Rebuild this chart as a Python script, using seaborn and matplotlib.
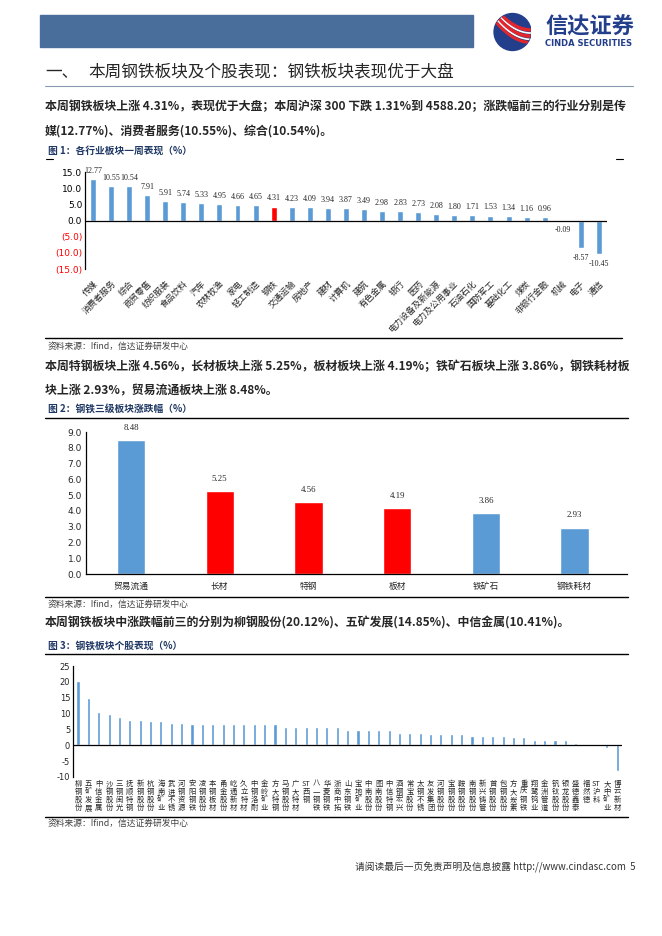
import matplotlib
matplotlib.use('Agg')
import matplotlib.pyplot as plt
import matplotlib.patches as mpatches
import numpy as np
import pandas as pd
import seaborn as sns

# 图1: 各行业板块一周表现
industries = ['传媒', '消费者服务', '综合', '商贸零售', '纺织服装', '食品饮料', '汽车',
              '农林牧渔', '家电', '轻工制造', '钢铁', '交通运输', '房地产', '建材', '计算机',
              '建筑', '有色金属', '银行', '医药', '电力设备及新能源', '电力及公用事业',
              '石油石化', '国防军工', '基础化工', '煤炭', '非银行金融', '机械', '电子', '通信']
industry_chg = [12.77, 10.55, 10.54, 7.91, 5.91, 5.74, 5.33, 4.95, 4.66, 4.65, 4.31, 4.23,
                4.09, 3.94, 3.87, 3.49, 2.98, 2.83, 2.73, 2.08, 1.80, 1.71, 1.53, 1.34,
                1.16, 0.96, -0.09, -8.57, -10.45]

# 图2: 钢铁三级板块涨跌幅
sub_sectors = ['贸易流通', '长材', '特钢', '板材', '铁矿石', '钢铁耗材']
sub_chg = [8.48, 5.25, 4.56, 4.19, 3.86, 2.93]
red_sectors = ['长材', '特钢', '板材']

# 图3: 钢铁板块个股表现
stocks = ['柳钢股份', '五矿发展', '中信金属', '沙钢股份', '三钢闽光', '抚顺特钢', '新钢股份',
          '杭钢股份', '海南矿业', '武进不锈', '河钢资源', '安阳钢铁', '凌钢股份', '本钢板材',
          '甬金股份', '屹通新材', '久立特材', '中钢洛耐', '金岭矿业', '方大特钢', '马钢股份',
          '广大特材', 'ST西钢', '八一钢铁', '华菱钢铁', '浙商中拓', '山东钢铁', '宝地矿业',
          '中南股份', '图南股份', '中信特钢', '酒钢宏兴', '常宝股份', '太钢不锈', '友发集团',
          '河钢股份', '宝钢股份', '鞍钢股份', '南钢股份', '新兴铸管', '首钢股份', '包钢股份',
          '方大炭素', '重庆钢铁', '翔鹭钨业', '金洲管道', '钒钛股份', '银龙股份', '盛德鑫泰',
          '福然德', 'ST沪科', '大中矿业', '博云新材']
stock_chg = [20.12, 14.85, 10.41, 9.9, 9.0, 7.9, 7.9, 7.8, 7.8, 6.9, 6.9, 6.8, 6.8, 6.8,
             6.8, 6.7, 6.7, 6.7, 6.7, 6.6, 5.8, 5.8, 5.8, 5.7, 5.7, 5.7, 4.8, 4.8, 4.7, 4.7,
             4.7, 3.8, 3.8, 3.8, 3.7, 3.7, 3.7, 3.7, 2.8, 2.8, 2.8, 2.8, 2.7, 2.7, 1.8, 1.8,
             1.8, 1.7, 0.6, 0.0, 0.0, -1.0, -8.1]

BLUE = '#5B9BD5'
RED = '#FF0000'
NAVY = '#1F3864'
W, H = 662, 936

sns.set_theme(style='white')
plt.rcParams['font.family'] = ['Noto Sans CJK SC', 'DejaVu Sans']
plt.rcParams['axes.unicode_minus'] = False

fig = plt.figure(figsize=(W / 100, H / 100), dpi=100)


def box(x0, y0, x1, y1):
    # pixel box (top-left origin) -> figure fraction
    return [x0 / W, 1 - y1 / H, (x1 - x0) / W, (y1 - y0) / H]


def put(x, y, s, **kw):
    kw.setdefault('va', 'center')
    fig.text(x / W, 1 - y / H, s, **kw)


def hline(x0, x1, y, lw=1.0, color='black'):
    fig.add_artist(plt.Line2D([x0 / W, x1 / W], [1 - y / H, 1 - y / H], color=color, lw=lw))


# header
fig.add_artist(mpatches.Rectangle((40 / W, 1 - 47 / H), 433 / W, 32 / H,
                                  color='#4A6E9C', transform=fig.transFigure))
axl = fig.add_axes(box(484, 11, 536, 53))
axl.set_xlim(-1, 1)
axl.set_ylim(-1, 1)
axl.set_aspect('equal')
axl.axis('off')
circ = mpatches.Circle((0.12, 0), 0.88, color='#233E8B')
axl.add_patch(circ)
tt = np.linspace(-1.2, 1.2, 100)
for off, c, lw in [(0.45, '#E4262C', 2.5), (0.3, 'white', 1.2), (0.15, '#E4262C', 2.5),
                   (0.0, 'white', 1.2), (-0.15, '#E4262C', 2.2)]:
    ln, = axl.plot(tt, -0.7 * tt + 0.35 * tt ** 2 + off, color=c, lw=lw)
    ln.set_clip_path(circ)
put(545, 27, '信达证券', fontsize=16, fontweight='bold', color='#233E8B')
put(545, 44, 'CINDA SECURITIES', fontsize=6, fontweight='bold', color='#233E8B',
    family='DejaVu Sans')

# section title
put(45, 73, '一、', fontsize=12)
put(88, 73, '本周钢铁板块及个股表现：钢铁板块表现优于大盘', fontsize=12)
hline(45, 633, 86, lw=0.8, color='#8A9AB0')

body = dict(fontsize=8.6, fontweight='bold')
put(45, 107, '本周钢铁板块上涨 4.31%，表现优于大盘；本周沪深 300 下跌 1.31%到 4588.20；涨跌幅前三的行业分别是传', **body)
put(45, 131, '媒(12.77%)、消费者服务(10.55%)、综合(10.54%)。', **body)
put(48, 151, '图 1：各行业板块一周表现（%）', fontsize=7, fontweight='bold', color=NAVY)
hline(46, 53, 159, lw=0.8)
hline(616, 623, 159, lw=0.8)

# chart 1
ax1 = fig.add_axes(box(85, 172, 607, 269))
df1 = pd.DataFrame({'industry': industries, 'chg': industry_chg})
df1['tone'] = np.where(df1['industry'] == '钢铁', 'red', 'blue')
sns.barplot(data=df1, x='industry', y='chg', hue='tone', palette={'red': RED, 'blue': BLUE},
            dodge=False, width=0.33, saturation=1, legend=False, ax=ax1)
ax1.set_xlim(-0.44, 28.45)
ax1.set_ylim(-15, 15)
ax1.axhline(0, color='black', lw=0.9)
for sp in ['top', 'right', 'bottom']:
    ax1.spines[sp].set_visible(False)
ax1.spines['left'].set_color('black')
ax1.spines['left'].set_linewidth(0.9)
ax1.set_yticks(np.arange(-15, 16, 5))
ax1.set_yticklabels([f'({abs(v):.1f})' if v < 0 else f'{v:.1f}' for v in np.arange(-15, 16, 5)],
                    fontsize=6.5, family='DejaVu Sans')
for lbl, v in zip(ax1.get_yticklabels(), np.arange(-15, 16, 5)):
    lbl.set_color(RED if v < 0 else 'black')
ax1.set_xticks(range(len(industries)))
ax1.set_xticklabels(industries, rotation=45, ha='right', rotation_mode='anchor', fontsize=6.2)
ax1.tick_params(axis='both', length=0, pad=2)
ax1.tick_params(axis='x', pad=7)
ax1.set_xlabel('')
ax1.set_ylabel('')
for i, v in enumerate(industry_chg):
    ax1.annotate(f'{v:.2f}', (i, v), xytext=(0, 3 if v >= 0 else -4), textcoords='offset points',
                 ha='center', va='bottom' if v >= 0 else 'top', fontsize=5.8,
                 family='Liberation Serif')

hline(45, 622, 338, lw=1.0)
put(48, 346, '资料来源：Ifind，信达证券研发中心', fontsize=6.3, color='#404040', style='italic')

# paragraph 2
put(45, 367, '本周特钢板块上涨 4.56%，长材板块上涨 5.25%，板材板块上涨 4.19%；铁矿石板块上涨 3.86%，钢铁耗材板', **body)
put(45, 391, '块上涨 2.93%，贸易流通板块上涨 8.48%。', **body)
put(48, 410, '图 2：钢铁三级板块涨跌幅（%）', fontsize=7, fontweight='bold', color=NAVY)
hline(45, 628, 418, lw=1.0)

# chart 2
ax2 = fig.add_axes(box(86, 432, 627, 574))
df2 = pd.DataFrame({'sector': sub_sectors, 'chg': sub_chg})
df2['tone'] = np.where(df2['sector'].isin(red_sectors), 'red', 'blue')
sns.barplot(data=df2, x='sector', y='chg', hue='tone', palette={'red': RED, 'blue': BLUE},
            dodge=False, width=0.32, saturation=1, legend=False, ax=ax2)
ax2.set_xlim(-0.507, 5.59)
ax2.set_ylim(0, 9)
for sp in ['top', 'right']:
    ax2.spines[sp].set_visible(False)
for sp in ['left', 'bottom']:
    ax2.spines[sp].set_color('black')
    ax2.spines[sp].set_linewidth(0.9)
ax2.set_yticks(np.arange(0, 10, 1))
ax2.set_yticklabels([f'{v:.1f}' for v in np.arange(0, 10, 1)], fontsize=6.5, family='DejaVu Sans')
ax2.set_xticks(range(len(sub_sectors)))
ax2.set_xticklabels(sub_sectors, fontsize=6.3)
ax2.tick_params(axis='both', length=0, pad=3)
ax2.tick_params(axis='x', pad=6)
ax2.set_xlabel('')
ax2.set_ylabel('')
for i, v in enumerate(sub_chg):
    ax2.annotate(f'{v:.2f}', (i, v), xytext=(0, 6), textcoords='offset points',
                 ha='center', va='bottom', fontsize=6.3, family='Liberation Serif')

hline(45, 628, 597, lw=1.0)
put(48, 604, '资料来源：Ifind，信达证券研发中心', fontsize=6.3, color='#404040', style='italic')

# paragraph 3
put(45, 623, '本周钢铁板块中涨跌幅前三的分别为柳钢股份(20.12%)、五矿发展(14.85%)、中信金属(10.41%)。', **body)
put(48, 646, '图 3：钢铁板块个股表现（%）', fontsize=7, fontweight='bold', color=NAVY)
hline(45, 628, 654, lw=1.0)

# chart 3
ax3 = fig.add_axes(box(73, 666, 622, 777))
df3 = pd.DataFrame({'stock': stocks, 'chg': stock_chg})
sns.barplot(data=df3, x='stock', y='chg', color=BLUE, width=0.3, saturation=1, ax=ax3)
ax3.set_xlim(-0.48, 52.46)
ax3.set_ylim(-10, 25)
ax3.axhline(0, color='black', lw=0.9)
for sp in ['top', 'right', 'bottom']:
    ax3.spines[sp].set_visible(False)
ax3.spines['left'].set_color('black')
ax3.spines['left'].set_linewidth(0.9)
ax3.set_yticks(np.arange(-10, 26, 5))
ax3.set_yticklabels([str(v) for v in np.arange(-10, 26, 5)], fontsize=6, family='DejaVu Sans')


def vert(name):
    if name.startswith('ST'):
        return '\n'.join(['ST'] + list(name[2:]))
    return '\n'.join(name)


ax3.set_xticks(range(len(stocks)))
ax3.set_xticklabels([vert(s) for s in stocks], fontsize=5.3, linespacing=1.0, va='top')
ax3.tick_params(axis='both', length=0, pad=2)
ax3.set_xlabel('')
ax3.set_ylabel('')

hline(45, 628, 817, lw=1.0)
put(48, 823, '资料来源：Ifind，信达证券研发中心', fontsize=6.3, color='#404040', style='italic')

# footer
put(355, 867, '请阅读最后一页免责声明及信息披露 http://www.cindasc.com  5', fontsize=7, color='#333333')

fig.savefig('out.png', dpi=100)
